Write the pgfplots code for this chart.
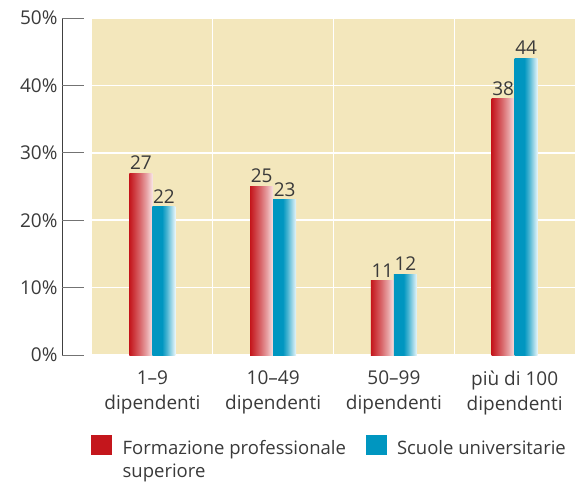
\documentclass[border=0pt]{standalone}
\usepackage{pgfplots}
\pgfplotsset{compat=1.18}
\usepackage{fontspec}
\setmainfont{Open Sans}
\definecolor{beige}{HTML}{F3E7BC}
\definecolor{txt}{HTML}{3A3A3A}
\definecolor{legred}{HTML}{C4161C}
\definecolor{legblue}{HTML}{0096C0}
\pgfdeclarehorizontalshading{redbar}{100bp}{color(0bp)=(legred); color(25bp)=(legred); color(35bp)=(legred!85!white); color(48bp)=(legred!65!white); color(62bp)=(legred!40!white); color(75bp)=(legred!12!white); color(100bp)=(legred!12!white)}
\pgfdeclarehorizontalshading{bluebar}{100bp}{color(0bp)=(legblue); color(25bp)=(legblue); color(46bp)=(legblue); color(56bp)=(legblue!72!white); color(66bp)=(legblue!38!white); color(75bp)=(legblue!8!white); color(100bp)=(legblue!8!white)}
\pgfplotsset{
  redb/.style={draw=none, shading=redbar, bar shift=-11.5pt, forget plot},
  blueb/.style={draw=none, shading=bluebar, bar shift=11.5pt, forget plot},
}
\begin{document}
\begin{tikzpicture}[font=\fontsize{19}{25}\selectfont, text=txt]
\useasboundingbox (-92pt,-128pt) rectangle (483pt,355pt);
\begin{axis}[
  scale only axis, width=483pt, height=337pt,
  at={(0pt,0pt)}, anchor=south west,
  xmin=-0.5, xmax=3.5, ymin=0, ymax=50,
  axis background/.style={fill=beige},
  axis line style={draw=none},
  major tick length=0pt,
  ytick={0,10,20,30,40,50},
  yticklabel={\pgfmathprintnumber{\tick}\%},
  yticklabel style={xshift=-31pt, text=txt},
  ymajorgrids, grid style={white, line width=1.5pt},
  xtick={0,1,2,3},
  xticklabels={{1--9\\dipendenti},{10--49\\dipendenti},{50--99\\dipendenti},{più di 100\\dipendenti}},
  xticklabel style={align=center, text=txt, yshift=-12pt},
  extra x ticks={0.5,1.5,2.5}, extra x tick labels={},
  extra x tick style={grid=major, major grid style={white, line width=1.5pt}},
  /pgf/number format/assume math mode=true,
  ybar, bar width=23pt,
  nodes near coords, every node near coord/.append style={text=txt, font=\fontsize{19}{22}\selectfont},
  legend columns=2,
  legend style={draw=none, fill=none, at={(-4pt,-78pt)}, anchor=north west,
    font=\fontsize{18.5}{23}\selectfont, text=txt,
    /tikz/every odd column/.append style={column sep=9pt},
    /tikz/every even column/.append style={column sep=9pt}},
  legend cell align=left,
  clip=false,
]
\addplot[redb] coordinates {(0,27)};
\addplot[redb] coordinates {(1,25)};
\addplot[redb] coordinates {(2,11)};
\addplot[redb] coordinates {(3,38)};
\addplot[blueb] coordinates {(0,22)};
\addplot[blueb] coordinates {(1,23)};
\addplot[blueb] coordinates {(2,12)};
\addplot[blueb] coordinates {(3,44)};
\addlegendimage{legend image code/.code={\fill[legred] (0pt,-6pt) rectangle (20pt,13pt);}}
\addlegendentry{\parbox[t]{232pt}{Formazione professionale\\superiore}}
\addlegendimage{legend image code/.code={\fill[legblue] (0pt,-6pt) rectangle (20pt,13pt);}}
\addlegendentry{Scuole universitarie}
\end{axis}
\draw[black!75, line width=0.8pt] (-30pt,337pt) -- (-30pt,0pt);
\foreach \i in {0,...,5} \draw[black!55, line width=0.8pt] (-30pt,\i*67.4pt) -- (-8pt,\i*67.4pt);
\end{tikzpicture}
\end{document}
